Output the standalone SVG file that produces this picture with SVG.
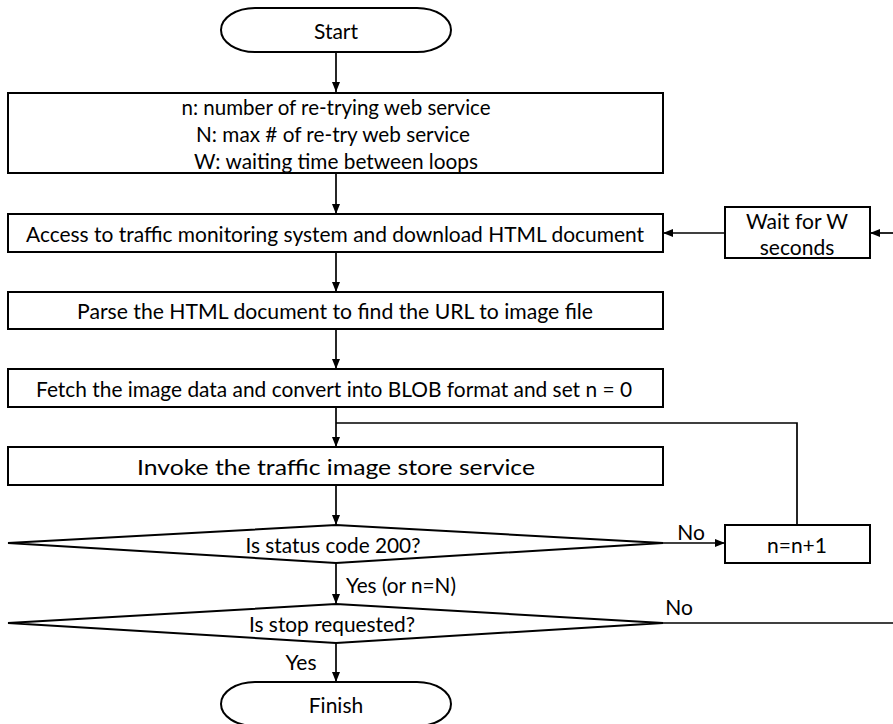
<svg xmlns="http://www.w3.org/2000/svg" width="893" height="724" viewBox="0 0 893 724">
<style>
.s{fill:#fff;stroke:#000;stroke-width:2}
.t{font-family:Lato,"Open Sans","Liberation Sans",sans-serif;font-size:21px;fill:#000;text-anchor:middle;dominant-baseline:central}
.c{fill:none;stroke:#000;stroke-width:1.7}
</style>
<defs>
<marker id="a" markerWidth="10" markerHeight="8" refX="10" refY="4" orient="auto" markerUnits="userSpaceOnUse">
<path d="M0,0 L10,4 L0,8 Z" fill="#000"/>
</marker>
</defs>
<rect width="893" height="724" fill="#fff"/>
<g id="connectors">
<line class="c" x1="336" y1="52" x2="336" y2="92" marker-end="url(#a)"/>
<line class="c" x1="336" y1="173" x2="336" y2="214" marker-end="url(#a)"/>
<line class="c" x1="336" y1="252" x2="336" y2="292" marker-end="url(#a)"/>
<line class="c" x1="336" y1="329" x2="336" y2="369" marker-end="url(#a)"/>
<line class="c" x1="336" y1="407" x2="336" y2="447" marker-end="url(#a)"/>
<line class="c" x1="336" y1="485" x2="336" y2="525" marker-end="url(#a)"/>
<line class="c" x1="336" y1="563" x2="336" y2="604" marker-end="url(#a)"/>
<line class="c" x1="336" y1="643" x2="336" y2="682" marker-end="url(#a)"/>
<line class="c" x1="663" y1="543" x2="725" y2="543" marker-end="url(#a)"/>
<polyline class="c" points="797,525 797,423 336,423"/>
<line class="c" x1="663" y1="623" x2="893" y2="623"/>
<line class="c" x1="893" y1="233" x2="870" y2="233" marker-end="url(#a)"/>
<line class="c" x1="725" y1="233" x2="663" y2="233" marker-end="url(#a)"/>
<text class="t" x="691" y="531">No</text>
<text class="t" x="679" y="606">No</text>
<text class="t" x="401" y="584" textLength="110" lengthAdjust="spacingAndGlyphs">Yes (or n=N)</text>
<text class="t" x="301" y="661">Yes</text>
</g>
<g id="start">
<path class="s" d="M255,8 L417,8 A34,22 0 0 1 417,52 L255,52 A34,22 0 0 1 255,8 Z"/>
<text class="t" x="336" y="30">Start</text>
</g>
<g id="init">
<rect class="s" x="8" y="93" width="655" height="80"/>
<text class="t" x="336" y="106" textLength="309" lengthAdjust="spacingAndGlyphs">n: number of re-trying web service</text>
<text class="t" x="333" y="133" textLength="274" lengthAdjust="spacingAndGlyphs">N: max # of re-try web service</text>
<text class="t" x="336" y="160" textLength="284" lengthAdjust="spacingAndGlyphs">W: waiting time between loops</text>
</g>
<g id="access">
<rect class="s" x="8" y="214" width="655" height="38"/>
<text class="t" x="335" y="233" textLength="618" lengthAdjust="spacingAndGlyphs">Access to traffic monitoring system and download  HTML document</text>
</g>
<g id="parse">
<rect class="s" x="8" y="292" width="655" height="37"/>
<text class="t" x="335" y="310" textLength="516" lengthAdjust="spacingAndGlyphs">Parse the HTML document to find the URL to image file</text>
</g>
<g id="fetch">
<rect class="s" x="8" y="369" width="655" height="38"/>
<text class="t" x="334" y="388" textLength="596" lengthAdjust="spacingAndGlyphs">Fetch the image data and convert  into BLOB format and set n = 0</text>
</g>
<g id="invoke">
<rect class="s" x="8" y="447" width="655" height="38"/>
<text class="t" x="336" y="466" textLength="398" lengthAdjust="spacingAndGlyphs">Invoke the traffic image store service</text>
</g>
<g id="status">
<polygon class="s" points="8,543 336,525 663,543 336,563"/>
<text class="t" x="333" y="544" textLength="175" lengthAdjust="spacingAndGlyphs">Is status code 200?</text>
</g>
<g id="stop">
<polygon class="s" points="8,623 336,604 663,623 336,643"/>
<text class="t" x="332" y="623" textLength="166" lengthAdjust="spacingAndGlyphs">Is stop requested?</text>
</g>
<g id="finish">
<path class="s" d="M255,682 L417,682 A34,22 0 0 1 417,726 L255,726 A34,22 0 0 1 255,682 Z"/>
<text class="t" x="336" y="704">Finish</text>
</g>
<g id="wait">
<rect class="s" x="725" y="207" width="145" height="51"/>
<text class="t" x="797" y="220">Wait for W</text>
<text class="t" x="797" y="246">seconds</text>
</g>
<g id="increment">
<rect class="s" x="725" y="525" width="145" height="38"/>
<text class="t" x="797" y="544">n=n+1</text>
</g>
</svg>
